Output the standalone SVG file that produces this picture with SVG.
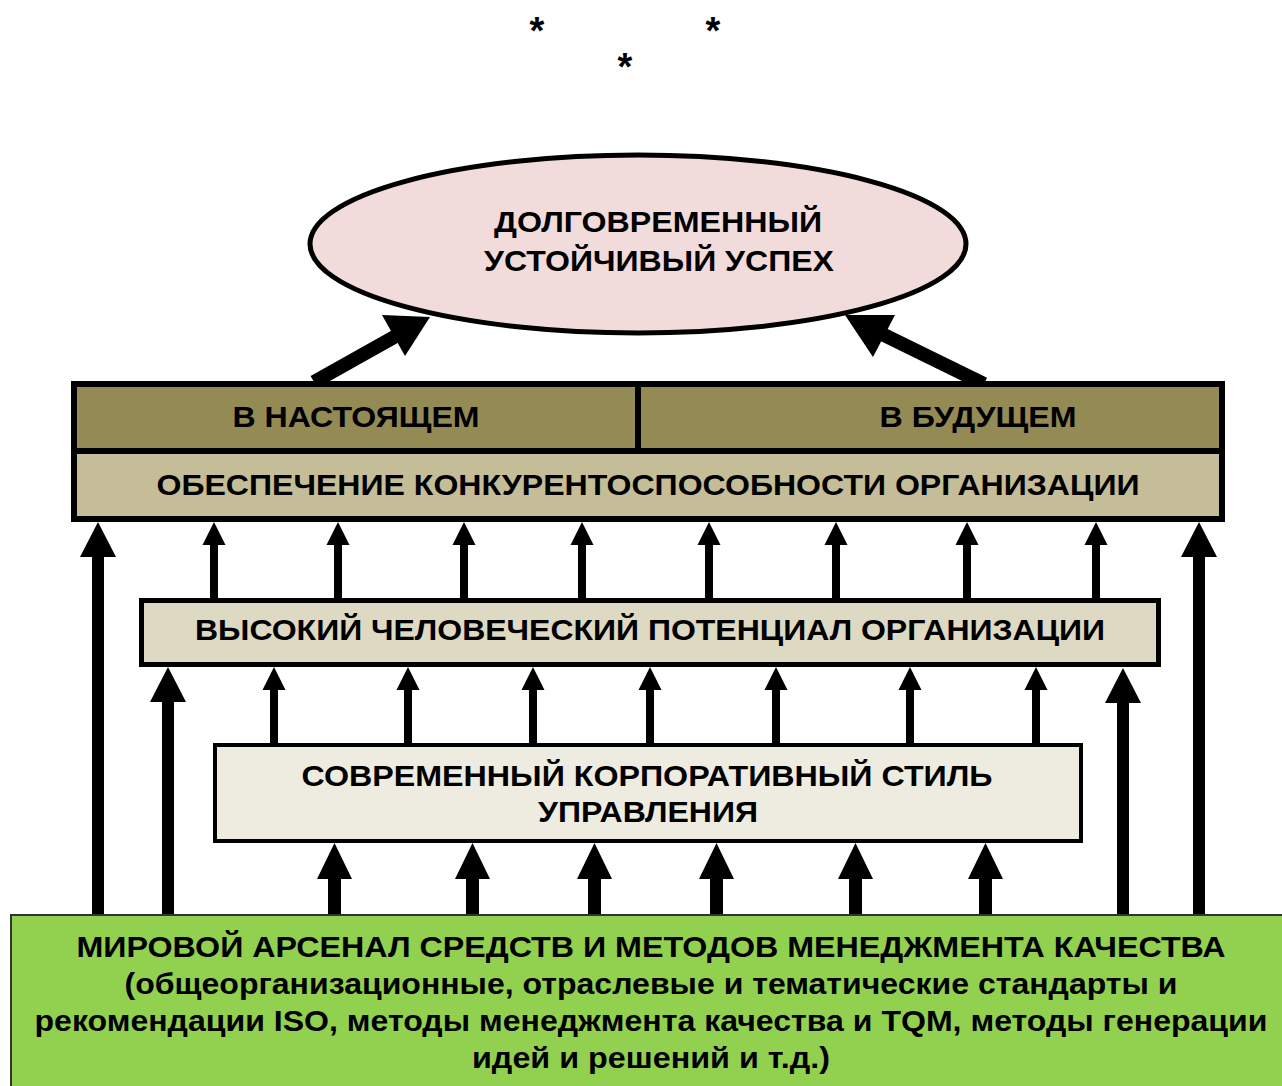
<svg xmlns="http://www.w3.org/2000/svg" width="1282" height="1086" viewBox="0 0 1282 1086">
<style>
text{font-family:"Liberation Sans",Arial,sans-serif;font-weight:bold;fill:#000;text-anchor:middle}
.t{font-size:30px}
.ast{font-size:38px}
.arr{fill:#000;stroke:none}
.box{stroke:#000}
</style>
<rect width="1282" height="1086" fill="#fff"/>
<g id="asterisks">
<text class="ast" x="537" y="44">*</text>
<text class="ast" x="713" y="44">*</text>
<text class="ast" x="625" y="80">*</text>
</g>
<g id="connectors">
<line x1="314" y1="382" x2="396" y2="336" stroke="#000" stroke-width="14"/>
<polygon class="arr" points="430,317 382,315 405,356"/>
<line x1="984" y1="384" x2="882" y2="334" stroke="#000" stroke-width="14"/>
<polygon class="arr" points="845,315 895,315 873,357"/>
<path class="arr" d="M92,914 V557 H80 L98,522 L116,557 H104 V914 Z"/>
<path class="arr" d="M1193,914 V557 H1181 L1199,522 L1217,557 H1205 V914 Z"/>
<g id="row1">
<path class="arr" d="M210,598 V545 H202.5 L214,522 L225.5,545 H218 V598 Z"/>
<path class="arr" d="M334,598 V545 H326.5 L338,522 L349.5,545 H342 V598 Z"/>
<path class="arr" d="M460,598 V545 H452.5 L464,522 L475.5,545 H468 V598 Z"/>
<path class="arr" d="M578,598 V545 H570.5 L582,522 L593.5,545 H586 V598 Z"/>
<path class="arr" d="M705,598 V545 H697.5 L709,522 L720.5,545 H713 V598 Z"/>
<path class="arr" d="M832,598 V545 H824.5 L836,522 L847.5,545 H840 V598 Z"/>
<path class="arr" d="M963,598 V545 H955.5 L967,522 L978.5,545 H971 V598 Z"/>
<path class="arr" d="M1092,598 V545 H1084.5 L1096,522 L1107.5,545 H1100 V598 Z"/>
</g>
<path class="arr" d="M162,914 V702 H150 L168,667 L186,702 H174 V914 Z"/>
<path class="arr" d="M1117,914 V703 H1105 L1123,668 L1141,703 H1129 V914 Z"/>
<g id="row2">
<path class="arr" d="M270,743 V690 H262.5 L274,667 L285.5,690 H278 V743 Z"/>
<path class="arr" d="M404,743 V690 H396.5 L408,667 L419.5,690 H412 V743 Z"/>
<path class="arr" d="M529,743 V690 H521.5 L533,667 L544.5,690 H537 V743 Z"/>
<path class="arr" d="M646,743 V690 H638.5 L650,667 L661.5,690 H654 V743 Z"/>
<path class="arr" d="M772,743 V690 H764.5 L776,667 L787.5,690 H780 V743 Z"/>
<path class="arr" d="M906,743 V690 H898.5 L910,667 L921.5,690 H914 V743 Z"/>
<path class="arr" d="M1032,743 V690 H1024.5 L1036,667 L1047.5,690 H1040 V743 Z"/>
</g>
<g id="row3">
<path class="arr" d="M328,914 V879 H317 L334.5,843 L352,879 H341 V914 Z"/>
<path class="arr" d="M466,914 V879 H455 L472.5,843 L490,879 H479 V914 Z"/>
<path class="arr" d="M588,914 V879 H577 L594.5,843 L612,879 H601 V914 Z"/>
<path class="arr" d="M710,914 V879 H699 L716.5,843 L734,879 H723 V914 Z"/>
<path class="arr" d="M849,914 V879 H838 L855.5,843 L873,879 H862 V914 Z"/>
<path class="arr" d="M979,914 V879 H968 L985.5,843 L1003,879 H992 V914 Z"/>
</g>
</g>
<g id="node-goal">
<ellipse cx="638" cy="244" rx="328" ry="89" fill="#F2DCDB" stroke="#000" stroke-width="5"/>
<text class="t" x="658" y="232" textLength="328" lengthAdjust="spacingAndGlyphs">ДОЛГОВРЕМЕННЫЙ</text>
<text class="t" x="659" y="271" textLength="350" lengthAdjust="spacingAndGlyphs">УСТОЙЧИВЫЙ УСПЕХ</text>
</g>
<g id="node-present">
<rect class="box" x="74" y="384" width="564" height="67" fill="#948A54" stroke-width="6"/>
<text class="t" x="356" y="427" textLength="247" lengthAdjust="spacingAndGlyphs">В НАСТОЯЩЕМ</text>
</g>
<g id="node-future">
<rect class="box" x="638" y="384" width="584" height="67" fill="#948A54" stroke-width="6"/>
<text class="t" x="978" y="427" textLength="197" lengthAdjust="spacingAndGlyphs">В БУДУЩЕМ</text>
</g>
<g id="node-competitiveness">
<rect class="box" x="74" y="451" width="1148" height="68" fill="#C4BD97" stroke-width="6"/>
<text class="t" x="648" y="495" textLength="983" lengthAdjust="spacingAndGlyphs">ОБЕСПЕЧЕНИЕ КОНКУРЕНТОСПОСОБНОСТИ ОРГАНИЗАЦИИ</text>
</g>
<g id="node-human">
<rect class="box" x="141.5" y="600.5" width="1017" height="64" fill="#DDD9C3" stroke-width="5"/>
<text class="t" x="650" y="640" textLength="910" lengthAdjust="spacingAndGlyphs">ВЫСОКИЙ ЧЕЛОВЕЧЕСКИЙ ПОТЕНЦИАЛ ОРГАНИЗАЦИИ</text>
</g>
<g id="node-style">
<rect class="box" x="215" y="745" width="866" height="96" fill="#EEECE1" stroke-width="4"/>
<text class="t" x="647" y="786" textLength="691" lengthAdjust="spacingAndGlyphs">СОВРЕМЕННЫЙ КОРПОРАТИВНЫЙ СТИЛЬ</text>
<text class="t" x="648" y="822" textLength="220" lengthAdjust="spacingAndGlyphs">УПРАВЛЕНИЯ</text>
</g>
<g id="node-arsenal">
<rect x="11" y="915" width="1275" height="175" fill="#92D050" stroke="#333" stroke-width="2"/>
<text class="t" x="651" y="957" textLength="1149" lengthAdjust="spacingAndGlyphs">МИРОВОЙ АРСЕНАЛ СРЕДСТВ И МЕТОДОВ МЕНЕДЖМЕНТА КАЧЕСТВА</text>
<text class="t" x="651" y="994" textLength="1053" lengthAdjust="spacingAndGlyphs">(общеорганизационные, отраслевые и тематические стандарты и</text>
<text class="t" x="651" y="1031" textLength="1233" lengthAdjust="spacingAndGlyphs">рекомендации ISO, методы менеджмента качества и TQM, методы генерации</text>
<text class="t" x="651" y="1068" textLength="358" lengthAdjust="spacingAndGlyphs">идей и решений и т.д.)</text>
</g>
</svg>
